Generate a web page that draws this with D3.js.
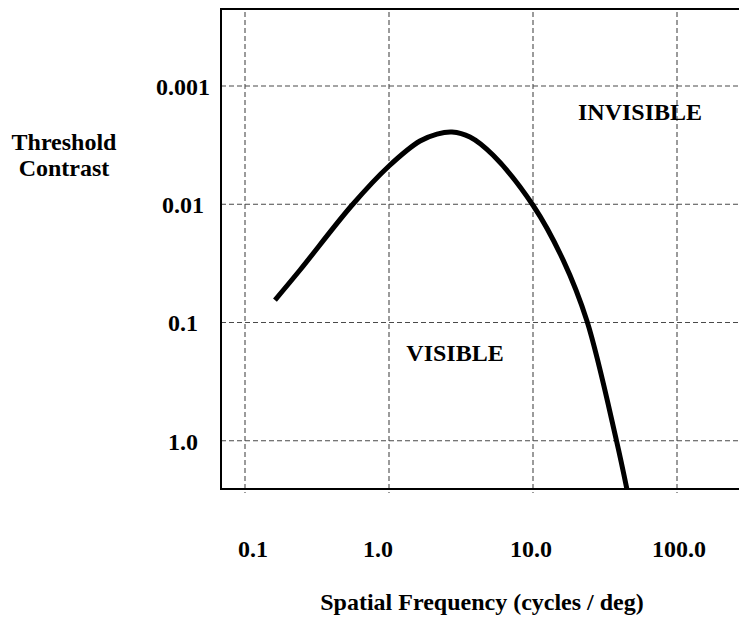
<!DOCTYPE html>
<html>
<head>
<meta charset="utf-8">
<script src="https://cdn.jsdelivr.net/npm/d3@7"></script>
<style>
  body { margin: 0; background: #fff; }
  svg text { font-family: "Liberation Serif", "Times New Roman", serif; font-weight: bold; fill: #000; font-size: 24px; }
</style>
</head>
<body>
<svg id="chart" width="739" height="617"></svg>
<script>
// contrast sensitivity curve
const freqTicks = [0.1, 1, 10, 100];
const freqTickLabels = ["0.1", "1.0", "10.0", "100.0"];
const contrastTicks = [0.001, 0.01, 0.1, 1];
const contrastTickLabels = ["0.001", "0.01", "0.1", "1.0"];

const curveFreq = [0.1615, 0.241, 0.553, 1.0, 1.642, 2.154, 2.74, 3.65, 5.27, 10, 16.2, 23.7, 38.0, 44.9];
const curveContrast = [0.0646, 0.036, 0.0102, 0.00475, 0.00292, 0.00255, 0.00245, 0.0027, 0.00384, 0.0102, 0.0297, 0.0973, 1.0, 2.57];

// label nudges (the original labels are not exactly centred on their lines)
const freqLabelDx = [8, -11, -2, 2];

const svg = d3.select("#chart");

const frame = { left: 221, top: 9, right: 739, bottom: 489 };

const x = d3.scaleLog().domain([0.1, 100]).range([245, 677]);
const y = d3.scaleLog().domain([0.001, 1]).range([86, 440.7]);

const grid = svg.append("g").attr("class", "grid");

grid.selectAll(".vgrid")
  .data(freqTicks)
  .enter()
  .append("line")
  .attr("x1", d => x(d))
  .attr("x2", d => x(d))
  .attr("y1", frame.top + 3)
  .attr("y2", frame.bottom + 4)
  .attr("stroke", "#4a4a4a")
  .attr("stroke-width", 1.1)
  .attr("stroke-dasharray", "5,3");

grid.selectAll(".hgrid")
  .data(contrastTicks)
  .enter()
  .append("line")
  .attr("x1", frame.left)
  .attr("x2", frame.right)
  .attr("y1", d => y(d))
  .attr("y2", d => y(d))
  .attr("stroke", "#4a4a4a")
  .attr("stroke-width", 1.1)
  .attr("stroke-dasharray", "5,3");

// frame: left, top, bottom (right side runs off the page)
svg.append("path")
  .attr("d", `M${frame.right},${frame.top}H${frame.left}V${frame.bottom}H${frame.right}`)
  .attr("fill", "none")
  .attr("stroke", "#000")
  .attr("stroke-width", 2);

const points = curveFreq.map((f, i) => [f, curveContrast[i]]);

const line = d3.line()
  .x(d => x(d[0]))
  .y(d => y(d[1]))
  .curve(d3.curveCatmullRom.alpha(0.5));

svg.append("path")
  .datum(points)
  .attr("d", line)
  .attr("fill", "none")
  .attr("stroke", "#000")
  .attr("stroke-width", 5);

// tick labels
svg.selectAll(".xlab")
  .data(freqTicks)
  .enter()
  .append("text")
  .attr("x", (d, i) => x(d) + freqLabelDx[i])
  .attr("y", 557)
  .attr("text-anchor", "middle")
  .text((d, i) => freqTickLabels[i]);

svg.selectAll(".ylab")
  .data(contrastTicks)
  .enter()
  .append("text")
  .attr("x", 183)
  .attr("y", d => y(d) + 9)
  .attr("text-anchor", "middle")
  .text((d, i) => contrastTickLabels[i]);

// axis titles
const ytitle = svg.append("text")
  .attr("text-anchor", "middle");
ytitle.append("tspan").attr("x", 64).attr("y", 150).text("Threshold");
ytitle.append("tspan").attr("x", 64).attr("y", 176).text("Contrast");

svg.append("text")
  .attr("x", 482)
  .attr("y", 610)
  .attr("text-anchor", "middle")
  .text("Spatial Frequency (cycles / deg)");

// region labels
svg.append("text")
  .attr("x", 640)
  .attr("y", 120)
  .attr("text-anchor", "middle")
  .text("INVISIBLE");

svg.append("text")
  .attr("x", 455)
  .attr("y", 361)
  .attr("text-anchor", "middle")
  .text("VISIBLE");
</script>
</body>
</html>
